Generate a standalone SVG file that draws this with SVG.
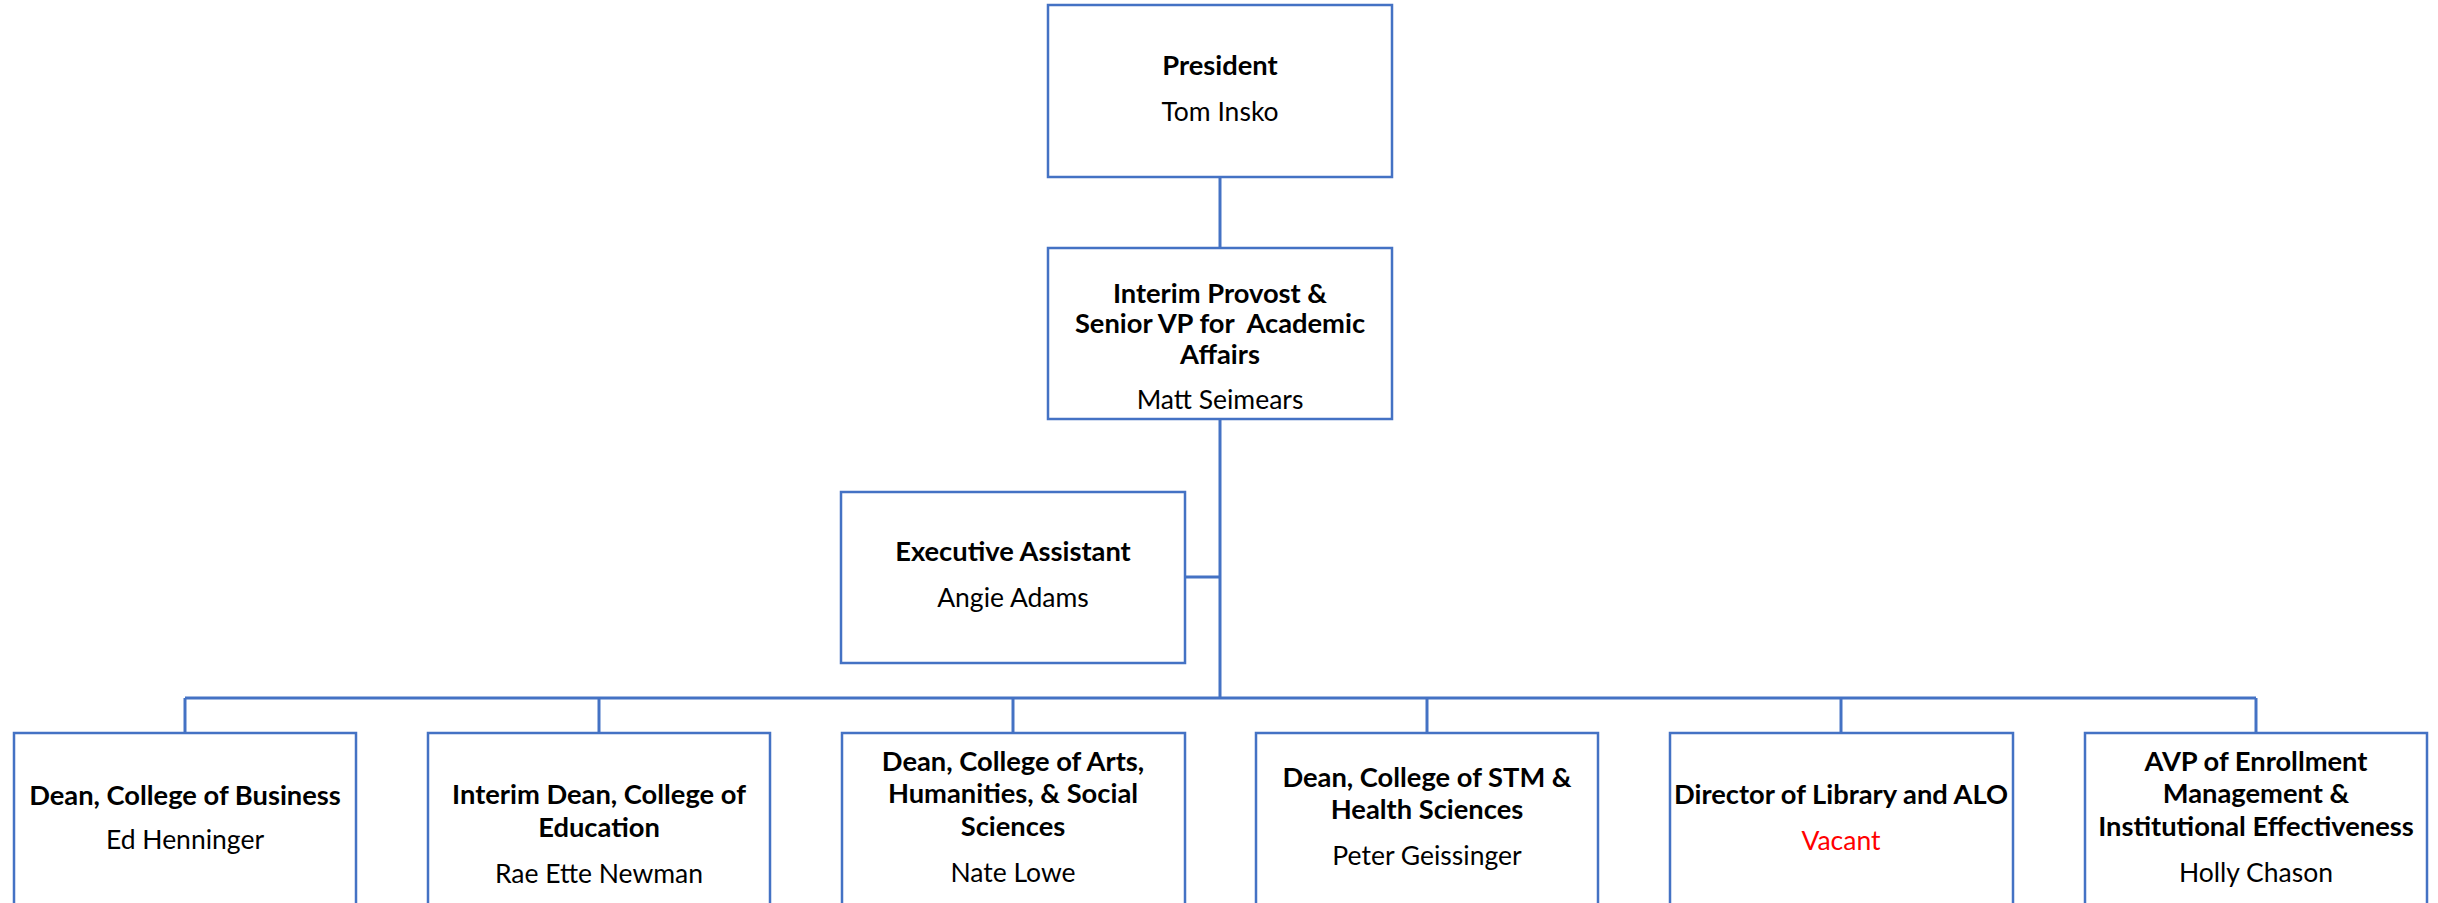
<svg xmlns="http://www.w3.org/2000/svg" width="2438" height="903" viewBox="0 0 2438 903">
<style>
.box{fill:#fff;stroke:#4472C4;stroke-width:2.5}
.ln{fill:none;stroke:#4472C4;stroke-width:3}
text{font-family:Lato,"Liberation Sans",sans-serif;font-size:26.5px;text-anchor:middle;fill:#000}
.t{font-weight:bold;font-size:27.3px}
.v{fill:#FF0000}
</style>
<rect width="2438" height="903" fill="#fff"/>
<g id="connectors">
<line class="ln" x1="1220" y1="177" x2="1220" y2="248"/>
<line class="ln" x1="1220" y1="419" x2="1220" y2="698"/>
<line class="ln" x1="1185" y1="577" x2="1220" y2="577"/>
<line class="ln" x1="185" y1="698" x2="2256" y2="698"/>
<line class="ln" x1="185" y1="698" x2="185" y2="733"/>
<line class="ln" x1="599" y1="698" x2="599" y2="733"/>
<line class="ln" x1="1013" y1="698" x2="1013" y2="733"/>
<line class="ln" x1="1427" y1="698" x2="1427" y2="733"/>
<line class="ln" x1="1841" y1="698" x2="1841" y2="733"/>
<line class="ln" x1="2256" y1="698" x2="2256" y2="733"/>
</g>
<g id="president">
<rect class="box" x="1048" y="5" width="344" height="172"/>
<text class="t" x="1220" y="75">President</text>
<text x="1220" y="121">Tom Insko</text>
</g>
<g id="provost">
<rect class="box" x="1048" y="248" width="344" height="171"/>
<text class="t" x="1220" y="303">Interim Provost &amp;</text>
<text class="t" x="1220" y="333" xml:space="preserve">Senior VP for  Academic</text>
<text class="t" x="1220" y="364">Affairs</text>
<text x="1220" y="409">Matt Seimears</text>
</g>
<g id="exec-assistant">
<rect class="box" x="841" y="492" width="344" height="171"/>
<text class="t" x="1013" y="561">Executive Assistant</text>
<text x="1013" y="607">Angie Adams</text>
</g>
<g id="dean-business">
<rect class="box" x="14" y="733" width="342" height="220"/>
<text class="t" x="185" y="805">Dean, College of Business</text>
<text x="185" y="849">Ed Henninger</text>
</g>
<g id="dean-education">
<rect class="box" x="428" y="733" width="342" height="220"/>
<text class="t" x="599" y="804">Interim Dean, College of</text>
<text class="t" x="599" y="837">Education</text>
<text x="599" y="883">Rae Ette Newman</text>
</g>
<g id="dean-arts">
<rect class="box" x="842" y="733" width="343" height="220"/>
<text class="t" x="1013" y="771">Dean, College of Arts,</text>
<text class="t" x="1013" y="803">Humanities, &amp; Social</text>
<text class="t" x="1013" y="836">Sciences</text>
<text x="1013" y="882">Nate Lowe</text>
</g>
<g id="dean-stm">
<rect class="box" x="1256" y="733" width="342" height="220"/>
<text class="t" x="1427" y="787">Dean, College of STM &amp;</text>
<text class="t" x="1427" y="819">Health Sciences</text>
<text x="1427" y="865">Peter Geissinger</text>
</g>
<g id="library">
<rect class="box" x="1670" y="733" width="343" height="220"/>
<text class="t" x="1841" y="804">Director of Library and ALO</text>
<text class="v" x="1841" y="850">Vacant</text>
</g>
<g id="avp-enrollment">
<rect class="box" x="2085" y="733" width="342" height="220"/>
<text class="t" x="2256" y="771">AVP of Enrollment</text>
<text class="t" x="2256" y="803">Management &amp;</text>
<text class="t" x="2256" y="836">Institutional Effectiveness</text>
<text x="2256" y="882">Holly Chason</text>
</g>
</svg>
